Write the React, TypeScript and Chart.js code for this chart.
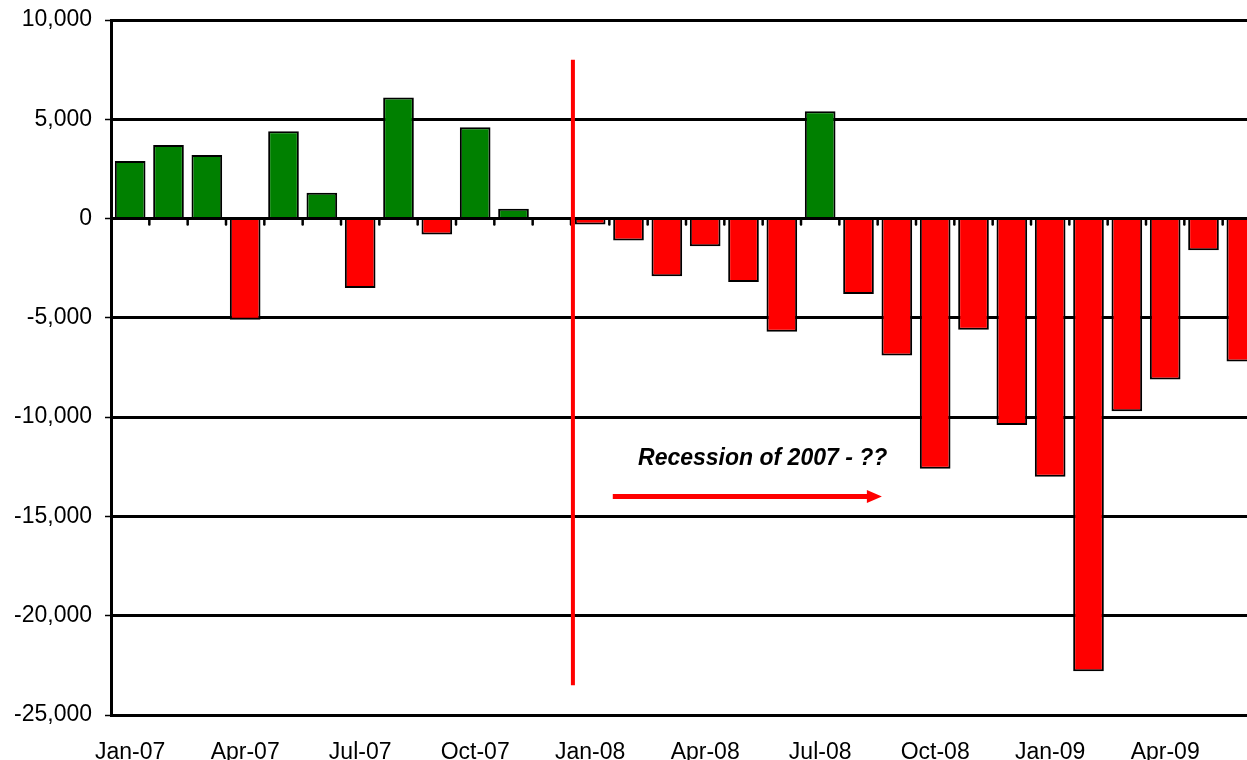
import { useEffect, useRef } from 'react';
import { Chart, registerables } from 'chart.js';

Chart.register(...registerables);

const months = [
  'Jan-07', 'Feb-07', 'Mar-07', 'Apr-07', 'May-07', 'Jun-07', 'Jul-07', 'Aug-07', 'Sep-07', 'Oct-07', 'Nov-07', 'Dec-07',
  'Jan-08', 'Feb-08', 'Mar-08', 'Apr-08', 'May-08', 'Jun-08', 'Jul-08', 'Aug-08', 'Sep-08', 'Oct-08', 'Nov-08', 'Dec-08',
  'Jan-09', 'Feb-09', 'Mar-09', 'Apr-09', 'May-09', 'Jun-09',
];
const jobChanges = [
  2900, 3700, 3200, -5100, 4400, 1300, -3500, 6100, -800, 4600, 500, 0,
  -300, -1100, -2900, -1400, -3200, -5700, 5400, -3800, -6900, -12600, -5600, -10400,
  -13000, -22800, -9700, -8100, -1600, -7200,
];
const yMin = -25000;
const yMax = 10000;
const yStep = 5000;
const labelEvery = 3;

const recessionLabel = 'Recession of 2007 - ??';
const recessionLineX = 11.55; // category position
const recessionLineTop = 8000;
const recessionLineBottom = -23500;
const labelX = 16.5;
const labelY = -12400;
const arrowFrom = 12.59;
const arrowTo = 19.61;
const arrowY = -14000;

const GREEN = '#008000';
const RED = '#FF0000';
const FONT = '"Liberation Sans", Arial, Helvetica, sans-serif';

const annotations = {
  id: 'annotations',
  afterDatasetsDraw(chart: any) {
    const { ctx, chartArea, scales } = chart;
    const x = scales.x;
    const y = scales.y;
    ctx.save();
    // zero line + category ticks
    const y0 = y.getPixelForValue(0);
    ctx.strokeStyle = '#000';
    ctx.lineWidth = 3;
    ctx.beginPath();
    ctx.moveTo(chartArea.left, y0);
    ctx.lineTo(chartArea.right, y0);
    ctx.stroke();
    ctx.lineWidth = 2.5;
    ctx.lineCap = 'round';
    for (let i = 1; i <= months.length; i++) {
      const px = x.getPixelForValue(i - 0.5);
      ctx.beginPath();
      ctx.moveTo(px, y0);
      ctx.lineTo(px, y0 + 6);
      ctx.stroke();
    }
    ctx.lineCap = 'butt';
    // recession start line
    const lx = x.getPixelForValue(recessionLineX);
    ctx.strokeStyle = RED;
    ctx.lineWidth = 4;
    ctx.beginPath();
    ctx.moveTo(lx, y.getPixelForValue(recessionLineTop));
    ctx.lineTo(lx, y.getPixelForValue(recessionLineBottom));
    ctx.stroke();
    // label
    ctx.fillStyle = '#000';
    ctx.font = `italic bold 23px ${FONT}`;
    ctx.textAlign = 'center';
    ctx.textBaseline = 'alphabetic';
    ctx.fillText(recessionLabel, x.getPixelForValue(labelX), y.getPixelForValue(labelY));
    // arrow
    const ax1 = x.getPixelForValue(arrowFrom);
    const ax2 = x.getPixelForValue(arrowTo);
    const ay = y.getPixelForValue(arrowY);
    ctx.strokeStyle = RED;
    ctx.fillStyle = RED;
    ctx.lineWidth = 5;
    ctx.beginPath();
    ctx.moveTo(ax1, ay);
    ctx.lineTo(ax2 - 12, ay);
    ctx.stroke();
    ctx.beginPath();
    ctx.moveTo(ax2, ay);
    ctx.lineTo(ax2 - 15, ay - 6.5);
    ctx.lineTo(ax2 - 15, ay + 6.5);
    ctx.closePath();
    ctx.fill();
    ctx.restore();
  },
};

export default function App() {
  const ref = useRef<HTMLCanvasElement | null>(null);

  useEffect(() => {
    if (!ref.current) return;
    const chart = new Chart(ref.current, {
      type: 'bar',
      data: {
        labels: months,
        datasets: [
          {
            data: jobChanges,
            backgroundColor: jobChanges.map((v) => (v >= 0 ? GREEN : RED)),
            borderColor: '#000',
            borderWidth: 2,
            barPercentage: 0.8,
            categoryPercentage: 1,
          },
        ],
      },
      options: {
        animation: false,
        responsive: false,
        devicePixelRatio: 1,
        layout: { padding: { top: 20, left: 0, right: 0, bottom: 0 } },
        plugins: {
          legend: { display: false },
          tooltip: { enabled: false },
          title: { display: false },
        },
        scales: {
          x: {
            afterFit: (scale: any) => {
              scale.height = 45;
              scale.paddingLeft = 0;
              scale.paddingRight = 0;
            },
            grid: { display: false, drawTicks: false },
            border: { display: true, color: '#000', width: 3 },
            ticks: {
              autoSkip: false,
              maxRotation: 0,
              minRotation: 0,
              padding: 24,
              color: '#000',
              font: { family: FONT, size: 23 },
              callback: (_v: any, i: number) => (i % labelEvery === 0 ? months[i] : ''),
            },
          },
          y: {
            min: yMin,
            max: yMax,
            afterFit: (scale: any) => {
              scale.width = 111;
              scale.paddingTop = 0;
              scale.paddingBottom = 0;
            },
            grid: {
              color: '#000',
              lineWidth: 3,
              drawTicks: true,
              tickLength: 6,
              tickColor: '#000',
              tickWidth: 1.5,
            },
            border: { display: true, color: '#000', width: 3 },
            ticks: {
              stepSize: yStep,
              padding: 13,
              color: '#000',
              font: { family: FONT, size: 23 },
              callback: (v: any) => Number(v).toLocaleString('en-US'),
            },
          },
        },
      },
      plugins: [annotations],
    });
    return () => chart.destroy();
  }, []);

  return (
    <div
      style={{
        position: 'absolute',
        left: 0,
        top: 0,
        width: 1247,
        height: 760,
        overflow: 'hidden',
        background: '#fff',
      }}
    >
      <canvas ref={ref} width={1261} height={760} style={{ display: 'block', width: 1261, height: 760 }} />
    </div>
  );
}
